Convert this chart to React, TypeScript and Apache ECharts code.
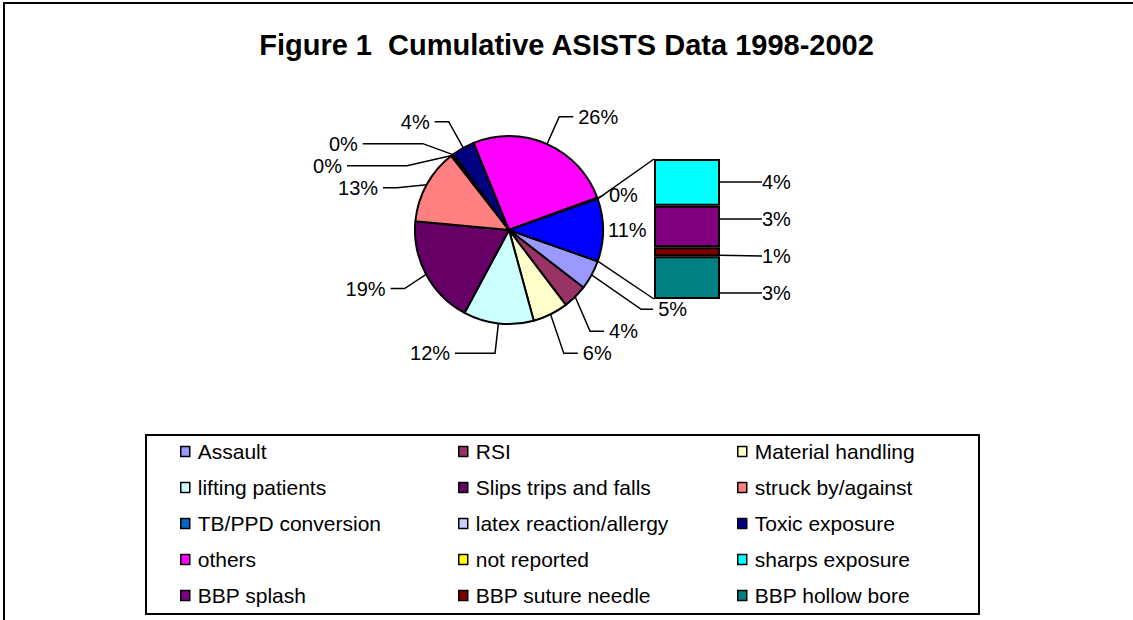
import React, { useEffect, useRef } from 'react';
import * as echarts from 'echarts';

const titleText = 'Figure 1  Cumulative ASISTS Data 1998-2002';

const pieNames = [
  'Assault',
  'RSI',
  'Material handling',
  'lifting patients',
  'Slips trips and falls',
  'struck by/against',
  'TB/PPD conversion',
  'latex reaction/allergy',
  'Toxic exposure',
  'others',
  'not reported',
];
const pieValues = [5.1, 4.2, 6.1, 12.1, 18.7, 13.0, 0.2, 0.3, 3.9, 25.6, 0.2];
const pieColors = [
  '#9999FF', '#993366', '#FFFFCC', '#CCFFFF', '#660066', '#FF8080',
  '#0066CC', '#CCCCFF', '#000080', '#FF00FF', '#FFFF00',
];
const otherName = 'Other';
const otherColor = '#0000FF';

const barNames = ['sharps exposure', 'BBP splash', 'BBP suture needle', 'BBP hollow bore'];
const barValues = [3.6, 3.2, 0.7, 3.3];
const barColors = ['#00FFFF', '#800080', '#800000', '#008080'];

// leader-line lengths (style only)
const leaderStyle: Record<string, { length: number; length2: number; show?: boolean }> = {
  Assault: { length: 72, length2: 12 },
  'lifting patients': { length: 30, length2: 40 },
  'TB/PPD conversion': { length: 30, length2: 60 },
  'latex reaction/allergy': { length: 30, length2: 60 },
  'not reported': { length: 10, length2: 0 },
  Other: { length: 5, length2: 0, show: false },
};

const FONT = "'Liberation Sans', Arial, sans-serif";

// spread label centres so that neighbours keep at least `gap` pixels apart
function spread(centers: number[], gap: number): number[] {
  const clusters = centers.map((c, i) => ({ idx: [i], sum: c }));
  let changed = true;
  while (changed) {
    changed = false;
    for (let k = 0; k < clusters.length - 1; k++) {
      const a = clusters[k];
      const b = clusters[k + 1];
      const aLast = a.sum / a.idx.length + ((a.idx.length - 1) * gap) / 2;
      const bFirst = b.sum / b.idx.length - ((b.idx.length - 1) * gap) / 2;
      if (bFirst - aLast < gap) {
        clusters.splice(k, 2, { idx: [...a.idx, ...b.idx], sum: a.sum + b.sum });
        changed = true;
        break;
      }
    }
  }
  const out: number[] = [];
  clusters.forEach((cl) => {
    const m = cl.sum / cl.idx.length;
    cl.idx.forEach((i, j) => {
      out[i] = m + (j - (cl.idx.length - 1) / 2) * gap;
    });
  });
  return out;
}

export default function App() {
  const ref = useRef<HTMLDivElement>(null);

  useEffect(() => {
    document.body.style.margin = '0';
    const chart = echarts.init(ref.current!, null, { renderer: 'svg' });

    const barSum = barValues.reduce((a, b) => a + b, 0);
    const total = pieValues.reduce((a, b) => a + b, 0) + barSum;
    const halfRad = (barSum / total) * Math.PI;
    const halfDeg = (halfRad * 180) / Math.PI;

    const CX = 509;
    const CY = 230;
    const R = 94;
    const BAR = { left: 654, top: 159, width: 66, height: 140 };

    // natural label centres of the bar segments, then spread apart
    let cum = 0;
    const natural = barValues.map((v) => {
      const c = BAR.top + ((cum + v / 2) / barSum) * BAR.height;
      cum += v;
      return c;
    });
    const targets = spread(natural, 37);

    const withLeader = (item: any) =>
      leaderStyle[item.name] ? { ...item, labelLine: leaderStyle[item.name] } : item;

    const pieData: any[] = pieNames.map((n, i) =>
      withLeader({ name: n, value: pieValues[i], itemStyle: { color: pieColors[i] } })
    );
    pieData.push(withLeader({ name: otherName, value: barSum, itemStyle: { color: otherColor } }));

    const allNames = [...pieNames, ...barNames];
    const colLefts = [180, 458, 737];
    const legends = colLefts.map((left, c) => ({
      orient: 'vertical',
      left,
      top: 441,
      padding: 0,
      itemGap: 15,
      itemWidth: 9,
      itemHeight: 10,
      icon: 'rect',
      selectedMode: false,
      itemStyle: { borderColor: '#000', borderWidth: 1.5 },
      textStyle: { fontFamily: FONT, fontSize: 21, color: '#000', lineHeight: 21, padding: [0, 0, 0, 3] },
      data: allNames.filter((_, i) => i % 3 === c),
    }));

    const ux = CX + R * Math.cos(halfRad);
    const uy = CY - R * Math.sin(halfRad);
    const ly = CY + R * Math.sin(halfRad);

    const option: any = {
      animation: false,
      backgroundColor: '#fff',
      title: {
        text: titleText,
        left: 'center',
        top: 30,
        padding: 0,
        textStyle: { fontFamily: FONT, fontSize: 29, fontWeight: 'bold', color: '#000' },
      },
      legend: legends,
      grid: { left: BAR.left, top: BAR.top, width: BAR.width, height: BAR.height },
      xAxis: { type: 'category', data: [otherName], show: false },
      yAxis: { type: 'value', min: 0, max: barSum, inverse: true, show: false },
      graphic: [
        {
          type: 'rect',
          z: -10,
          shape: { x: 4, y: 3, width: 1200, height: 700 },
          style: { fill: 'none', stroke: '#000', lineWidth: 2 },
          silent: true,
        },
        {
          type: 'rect',
          shape: { x: 146, y: 435, width: 833, height: 179 },
          style: { fill: 'none', stroke: '#000', lineWidth: 2 },
          silent: true,
        },
        {
          type: 'line',
          shape: { x1: ux, y1: uy, x2: BAR.left, y2: BAR.top },
          style: { stroke: '#000', lineWidth: 1.5 },
          silent: true,
        },
        {
          type: 'line',
          shape: { x1: ux, y1: ly, x2: BAR.left, y2: BAR.top + BAR.height },
          style: { stroke: '#000', lineWidth: 1.5 },
          silent: true,
        },
      ],
      series: [
        {
          type: 'pie',
          center: [CX, CY],
          radius: R,
          startAngle: -halfDeg,
          clockwise: true,
          data: pieData,
          itemStyle: { borderColor: '#000', borderWidth: 2 },
          label: {
            show: true,
            position: 'outside',
            fontFamily: FONT,
            fontSize: 20,
            color: '#000',
            formatter: (p: any) => Math.round((p.value / total) * 100) + '%',
          },
          labelLine: { show: true, length: 30, length2: 14, lineStyle: { color: '#000', width: 1.5 } },
          emphasis: { disabled: true },
        },
        ...barNames.map((n, i) => ({
          type: 'bar',
          name: n,
          stack: 'other',
          barWidth: '100%',
          data: [barValues[i]],
          itemStyle: { color: barColors[i], borderColor: '#000', borderWidth: 2 },
          label: {
            show: true,
            position: 'right',
            distance: 5,
            fontFamily: FONT,
            fontSize: 20,
            color: '#000',
            formatter: (p: any) => Math.round((p.value / total) * 100) + '%',
          },
          labelLayout: (params: any) => {
            const r = params.labelRect;
            return { dx: 37, dy: targets[i] + 3 - (r.y + r.height / 2) };
          },
          labelLine: { show: true, lineStyle: { color: '#000', width: 1.5 } },
          emphasis: { disabled: true },
        })),
      ],
    };

    chart.setOption(option);
    return () => chart.dispose();
  }, []);

  return <div ref={ref} style={{ width: 1133, height: 620, background: '#fff' }} />;
}
